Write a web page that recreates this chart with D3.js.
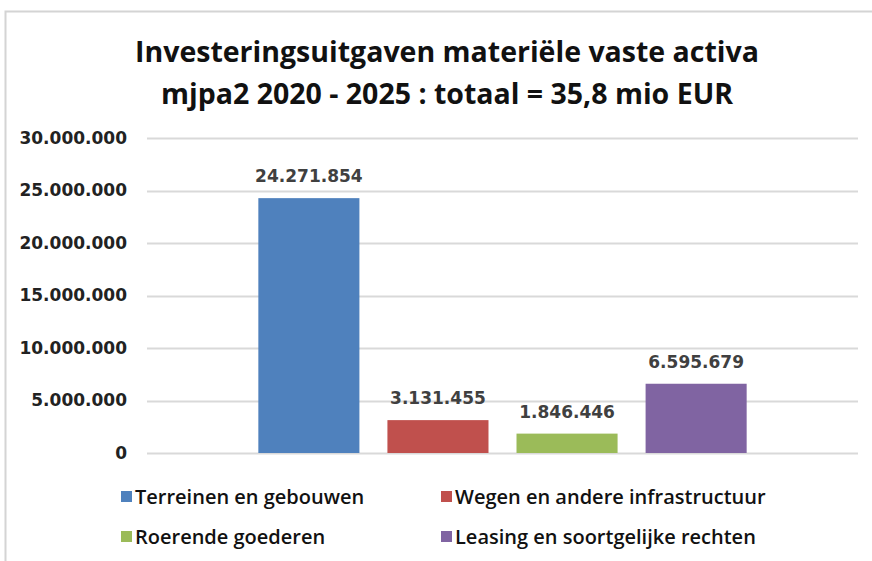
<!doctype html>
<html lang='nl'>
<head>
    <meta charset='utf-8'>
    <title>Investeringsuitgaven</title>
    <script src='https://cdn.jsdelivr.net/npm/d3@7'></script>
    <style>
        body { margin: 0; background: white; }
        .title { font-family: 'Open Sans', sans-serif; font-weight: bold; fill: #111; }
        .tick text { font-family: 'DejaVu Sans', sans-serif; font-weight: bold; fill: #222; }
        .value-label { font-family: 'DejaVu Sans', sans-serif; font-weight: bold; fill: #404040; }
        .legend-label { font-family: 'Open Sans', sans-serif; font-weight: 600; fill: #111; }
    </style>
</head>
<body>
<svg id='chart' width='872' height='561'></svg>
<script>
    // chart data
    const series = ['Terreinen en gebouwen', 'Wegen en andere infrastructuur', 'Roerende goederen', 'Leasing en soortgelijke rechten'];
    const values = [24271854, 3131455, 1846446, 6595679];
    const colors = ['#4f81bd', '#c0504d', '#9bbb59', '#8064a2'];
    const yTicks = [0, 5000000, 10000000, 15000000, 20000000, 25000000, 30000000];
    const titleLines = ['Investeringsuitgaven materiële vaste activa', 'mjpa2 2020 - 2025 : totaal = 35,8 mio EUR'];

    const svg = d3.select('#chart');
    const fmt = v => d3.format(',')(v).replace(/,/g, '.');

    // frame
    svg.append('path')
        .attr('d', 'M5.5,561 V11.5 H872')
        .attr('fill', 'none')
        .attr('stroke', '#d4d4d4')
        .attr('stroke-width', 2);

    svg.selectAll('.title')
        .data(titleLines)
        .enter()
        .append('text')
        .classed('title', true)
        .attr('x', 447)
        .attr('y', (d, i) => 62 + i * 42)
        .attr('text-anchor', 'middle')
        .style('font-size', '28.5px')
        .text(d => d);

    const plot = {left: 147, right: 858, top: 138, bottom: 453};

    const y = d3.scaleLinear().domain([0, 30000000]).range([plot.bottom, plot.top]);

    // one category, four series side by side
    const x0 = d3.scaleBand().domain(['mjpa2']).range([plot.left, plot.right]).paddingInner(0).paddingOuter(0.228);
    const x1 = d3.scaleBand().domain(series).range([0, x0.bandwidth()]).paddingInner(0.217).paddingOuter(0);

    const yAxis = d3.axisLeft(y).tickValues(yTicks).tickFormat(fmt).tickSize(0).tickPadding(20);
    const gy = svg.append('g')
        .attr('transform', `translate(${plot.left},0)`)
        .call(yAxis);
    gy.select('.domain').remove();
    gy.selectAll('.tick text').style('font-size', '17px');

    svg.append('g')
        .selectAll('line')
        .data(yTicks)
        .enter()
        .append('line')
        .attr('x1', plot.left)
        .attr('x2', plot.right)
        .attr('y1', d => Math.round(y(d)) + 0.5)
        .attr('y2', d => Math.round(y(d)) + 0.5)
        .attr('stroke', '#d9d9d9')
        .attr('stroke-width', 2);

    const bars = svg.append('g')
        .attr('transform', `translate(${x0('mjpa2')},0)`);

    bars.selectAll('rect')
        .data(values)
        .enter()
        .append('rect')
        .attr('x', (d, i) => x1(series[i]))
        .attr('y', d => y(d))
        .attr('width', x1.bandwidth())
        .attr('height', d => y(0) - y(d))
        .attr('fill', (d, i) => colors[i]);

    bars.selectAll('.value-label')
        .data(values)
        .enter()
        .append('text')
        .classed('value-label', true)
        .attr('x', (d, i) => x1(series[i]) + x1.bandwidth() / 2)
        .attr('y', d => y(d) - 16)
        .attr('text-anchor', 'middle')
        .style('font-size', '17px')
        .text(fmt);

    // legend, two columns
    const legend = svg.append('g');
    const items = legend.selectAll('g')
        .data(series)
        .enter()
        .append('g')
        .attr('transform', (d, i) => `translate(${i % 2 ? 441 : 121},${i < 2 ? 497 : 537})`);

    items.append('rect')
        .attr('x', 0)
        .attr('y', -6)
        .attr('width', 11)
        .attr('height', 11)
        .attr('fill', (d, i) => colors[i]);

    items.append('text')
        .classed('legend-label', true)
        .attr('x', 14)
        .attr('y', 7)
        .style('font-size', '20px')
        .text(d => d);
</script>
</body>
</html>
